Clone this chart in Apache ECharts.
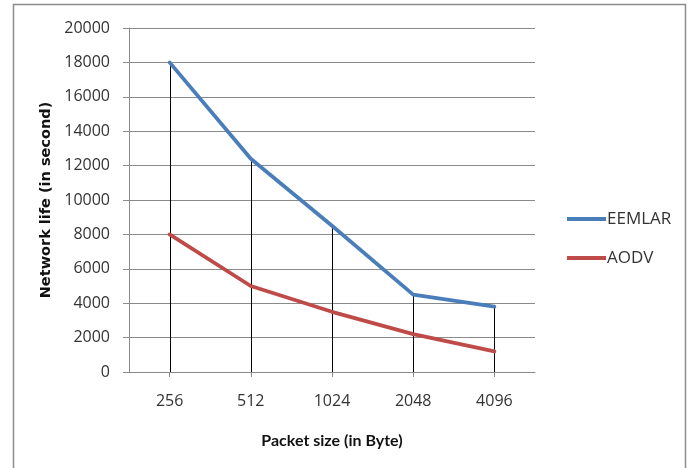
<!DOCTYPE html>
<html>
<head>
<meta charset="utf-8">
<script src="https://cdn.jsdelivr.net/npm/echarts@6/dist/echarts.min.js"></script>
<style>
  html, body { margin: 0; padding: 0; background: #ffffff; }
  #chart { width: 690px; height: 468px; }
</style>
</head>
<body>
<div id="chart"></div>
<script>
// Packet sizes (bytes) on the category axis
const packetSizes = ['256', '512', '1024', '2048', '4096'];
// Network lifetime in seconds for each protocol
const eemlarLife = [18000, 12400, 8500, 4500, 3800];
const aodvLife = [8000, 5000, 3500, 2200, 1200];
// Value-axis range
const yMin = 0;
const yMax = 20000;
const yStep = 2000;

// Top of each drop line: the higher of the two series at that category
const dropTops = packetSizes.map((_, i) => Math.max(eemlarLife[i], aodvLife[i]));

const labelFont = '"Open Sans", Lato, sans-serif';

const chart = echarts.init(document.getElementById('chart'), null, { renderer: 'canvas' });

chart.setOption({
  animation: false,
  backgroundColor: '#ffffff',
  graphic: [{
    type: 'rect',
    shape: { x: 13.5, y: 4.5, width: 672, height: 470 },
    style: { fill: 'none', stroke: '#8c8c8c', lineWidth: 1.5 },
    silent: true,
    z: -10
  }],
  grid: { left: 129, right: 155, top: 28, bottom: 96, containLabel: false },
  legend: {
    orient: 'vertical',
    left: 562,
    top: 205,
    itemWidth: 39,
    itemHeight: 4,
    itemGap: 21,
    icon: 'rect',
    textStyle: { fontFamily: labelFont, fontSize: 17, color: '#333333', lineHeight: 18, padding: [0, 0, 0, -4] },
    data: ['EEMLAR', 'AODV']
  },
  xAxis: {
    type: 'category',
    data: packetSizes,
    boundaryGap: true,
    name: 'Packet size (in Byte)',
    nameLocation: 'middle',
    nameGap: 61,
    nameTextStyle: { fontFamily: 'Lato, sans-serif', fontWeight: 'bold', fontSize: 16, color: '#111111' },
    axisLine: { lineStyle: { color: '#8a8a8a', width: 1 } },
    axisTick: { show: true, alignWithLabel: true, length: 5, lineStyle: { color: '#8a8a8a' } },
    axisLabel: { fontFamily: labelFont, fontSize: 16, color: '#333333', margin: 21 },
    splitLine: { show: false }
  },
  yAxis: {
    type: 'value',
    min: yMin,
    max: yMax,
    interval: yStep,
    name: 'Network life (in second)',
    nameLocation: 'middle',
    nameGap: 65,
    nameRotate: 90,
    nameTextStyle: { fontFamily: '"DejaVu Sans", Verdana, sans-serif', fontWeight: 'bold', fontSize: 14.5, color: '#111111' },
    axisLine: { show: true, lineStyle: { color: '#8a8a8a', width: 1 } },
    axisTick: { show: true, length: 6, lineStyle: { color: '#8a8a8a' } },
    axisLabel: {
      fontFamily: labelFont, fontSize: 16, color: '#333333', margin: 19,
      formatter: function (v) { return String(v); }
    },
    splitLine: { show: true, lineStyle: { color: '#8a8a8a', width: 1 } }
  },
  series: [
    {
      // vertical drop lines from the highest point down to the category axis
      name: 'drop',
      type: 'custom',
      silent: true,
      z: 1,
      data: dropTops.map((v, i) => [i, v]),
      renderItem: function (params, api) {
        const top = api.coord([api.value(0), api.value(1)]);
        const bottom = api.coord([api.value(0), yMin]);
        return {
          type: 'line',
          shape: { x1: Math.round(top[0]) + 0.5, y1: top[1], x2: Math.round(bottom[0]) + 0.5, y2: bottom[1] },
          style: { stroke: '#000000', lineWidth: 1 }
        };
      }
    },
    {
      name: 'EEMLAR',
      type: 'line',
      data: eemlarLife,
      z: 3,
      showSymbol: false,
      symbol: 'none',
      lineStyle: { color: '#4a7ebb', width: 3.8, cap: 'round', join: 'round' },
      itemStyle: { color: '#4a7ebb' }
    },
    {
      name: 'AODV',
      type: 'line',
      data: aodvLife,
      z: 3,
      showSymbol: false,
      symbol: 'none',
      lineStyle: { color: '#be4b48', width: 3.8, cap: 'round', join: 'round' },
      itemStyle: { color: '#be4b48' }
    }
  ]
});
</script>
</body>
</html>
